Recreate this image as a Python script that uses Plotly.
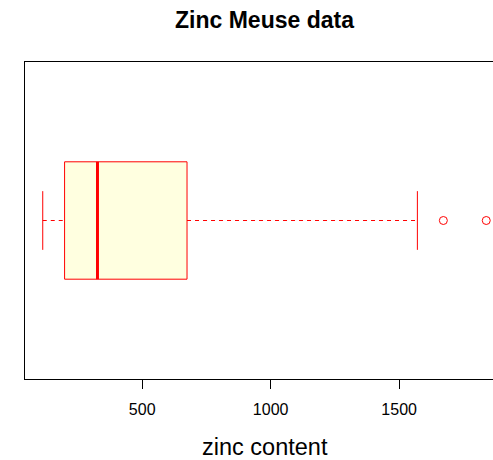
import plotly.graph_objects as go

# Five-number summary of zinc content (ppm) and points beyond the whiskers
zinc_min_whisker = 113
zinc_q1 = 198
zinc_median = 326
zinc_q3 = 674.5
zinc_max_whisker = 1571
zinc_outliers = [1672, 1839]
tick_values = [500, 1000, 1500]

RED = "#ff0000"
FILL = "#ffffe0"
pos = 1.0          # box centre on the hidden y axis
half_box = 0.2     # half of the box height
half_cap = 0.1     # half of the whisker cap length

fig = go.Figure()

# box body
fig.add_trace(go.Scatter(
    x=[zinc_q1, zinc_q3, zinc_q3, zinc_q1, zinc_q1],
    y=[pos - half_box, pos - half_box, pos + half_box, pos + half_box, pos - half_box],
    mode="lines", fill="toself", fillcolor=FILL,
    line=dict(color=RED, width=1), hoverinfo="skip", showlegend=False))

# median
fig.add_trace(go.Scatter(
    x=[zinc_median, zinc_median], y=[pos - half_box, pos + half_box],
    mode="lines", line=dict(color=RED, width=3), showlegend=False))

# dashed whiskers
for a, b in [(zinc_min_whisker, zinc_q1), (zinc_q3, zinc_max_whisker)]:
    fig.add_trace(go.Scatter(
        x=[a, b], y=[pos, pos], mode="lines",
        line=dict(color=RED, width=1, dash="4px,4px"), showlegend=False))

# whisker caps
for v in [zinc_min_whisker, zinc_max_whisker]:
    fig.add_trace(go.Scatter(
        x=[v, v], y=[pos - half_cap, pos + half_cap], mode="lines",
        line=dict(color=RED, width=1), showlegend=False))

# outliers
fig.add_trace(go.Scatter(
    x=zinc_outliers, y=[pos] * len(zinc_outliers), mode="markers",
    marker=dict(symbol="circle-open", size=8, color=RED, line=dict(width=1)),
    showlegend=False))

# R-style 4% range extension; the panel is clipped on the right
all_vals = [zinc_min_whisker] + zinc_outliers
span = max(all_vals) - min(all_vals)
x_lo = min(all_vals) - 0.04 * span
x_hi = max(all_vals) + 0.04 * span
W, H = 493, 460
left, top, bottom = 25, 62, 81
full_panel_px = 479
vis_px = W - left
x_vis_hi = x_lo + (x_hi - x_lo) * vis_px / full_panel_px
centre_paper = (full_panel_px / 2) / vis_px

font = "Liberation Sans, Arial, sans-serif"

fig.update_layout(
    width=W, height=H,
    margin=dict(l=left, r=0, t=top, b=bottom, pad=0),
    plot_bgcolor="white", paper_bgcolor="white",
    font=dict(family=font, color="black"),
    title=dict(text="<b>Zinc Meuse data</b>", font=dict(size=23, family=font, color="black"),
               x=(left + full_panel_px / 2) / W, xanchor="center", xref="container",
               y=1 - 20 / H, yanchor="middle", yref="container"),
    xaxis=dict(range=[x_lo, x_vis_hi], tickvals=tick_values,
               ticks="outside", ticklen=9, tickwidth=1, tickcolor="black",
               ticklabelstandoff=7,
               tickfont=dict(size=16, family=font, color="black"),
               showgrid=False, zeroline=False,
               showline=True, linecolor="black", linewidth=1, mirror=True),
    yaxis=dict(range=[0.46, 1.54], showticklabels=False, ticks="",
               showgrid=False, zeroline=False,
               showline=True, linecolor="black", linewidth=1),
    annotations=[dict(text="zinc content", xref="paper", yref="paper",
                      x=centre_paper, y=-(447 - 379) / (H - top - bottom),
                      xanchor="center", yanchor="middle", showarrow=False,
                      borderpad=0,
                      font=dict(size=23.5, family=font, color="black"))],
)

fig.write_html("out.html")
